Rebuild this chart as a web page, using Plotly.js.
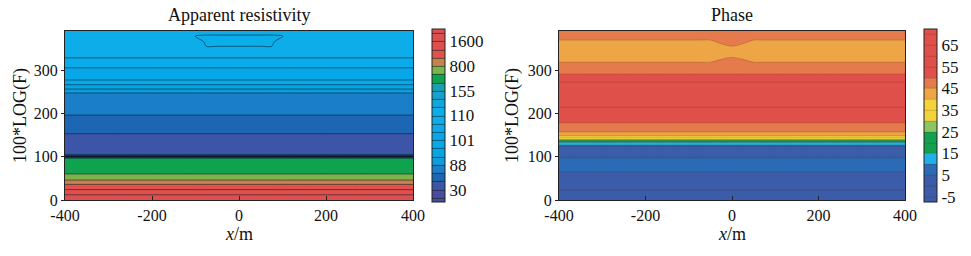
<!DOCTYPE html>
<html>
<head>
<meta charset="utf-8">
<script src="https://cdn.plot.ly/plotly-3.0.1.min.js"></script>
<style>html,body{margin:0;padding:0;background:#fff;}#chart{width:971px;height:256px;}</style>
</head>
<body>
<div id="chart"></div>
<script>
// ---------------- data ----------------
const xGrid = [-400,-300,-200,-150,-100,-75,-50,-25,0,25,50,75,100,150,200,300,400];
const xTickVals = [-400,-200,0,200,400];
const xTickText = ['-400','-200','0','200','400'];
const yTickVals = [0,100,200,300];

// apparent resistivity profile (100*LOG(F) vs ohm-m)
const rhoY   = [0,12,24,36,46,60,70,85,96,98,99.5,100.5,101.5,102.5,104,106,130,150,153,160,176,196,215,232,247,256,266,277,305,328,345,355,365,378,390];
const rhoVal = [1800,1600,1250,1000,800,300,260,235,205,180,140,100,75,60,52,48,42,48,50,56,62,70,76,83,88,93,97,101,104,107,108.3,108.8,109.1,109.4,109.5];
const rhoAnomY = [0,0,0,0,0,0,0,0,0,0,0,0,0,0,0,0,0,0,0,0,0,0,0,0,0,0,0,0,0,0,0.5,1,1,1,0];
const rhoAnomX = [0,0,0,0,0.5,1,1,1,1,1,1,1,0.5,0,0,0,0];
const rhoAnomAmp = 1.3;

// resistivity contour levels (colorbar boundaries)
const rhoLevels = [20,30,50,70,88,93,97,101,104,107,110,125,140,155,200,300,800,1000,1250,1600,1900];
const rhoBandColors = ['#4a4c9c','#3c55a6','#1d66b3','#1a7fc8','#0d9ddd','#06a6e6','#05aaea','#08a8e8','#0aabea','#0cade9',
                       '#0aaeeb','#0ea8e0','#14a2cf','#17a0b0','#0fa34f','#7db44a','#c7814c','#e0524b','#e04f4c','#e04f4f'];
const rhoTickVals = [30,88,101,110,155,800,1600];

// phase profile (degrees)
const phY   = [0,23,45,65,80,97,110,122,125,127,130,133,138,140,145,149,157,168,178,195,214,245,272,291,305,318,340,355,369,380,390];
const phVal = [-2,0,3,5,7,5,3,4,6,10,12.5,15,25,30,35,40,45,48,50,53,55,57.5,55,50,47.5,45,43,44,45,46,47];
const phAnomY = [0,0,0,0,0,0,0,0,0,0,0,0,0,0,0,0,0,0,0,0,0,0,0,0,0.3,1,1,1,1,0.6,0.3];
const phAnomX = [0,0,0,0,0,0,0,0.6,1,0.6,0,0,0,0,0,0,0];
const phAnomAmp = 1.0;

const phStart = -5, phEnd = 70, phStep = 5;
const phBandColors = ['#3b5ca8','#3b5ca8','#2b6bb5','#1fb0ea','#13a150','#13a150','#8cc661','#f3d33a','#f3d33a',
                      '#eea545','#e57a4d','#e0504a','#e0504a','#e0504a','#e0504a'];
const phTickVals = [-5,5,15,25,35,45,55,65];
const phTickText = ['-5','5','15','25','35','45','55','65'];

// ---------------- helpers ----------------
function toIndex(v, lev){
  if (v <= lev[0]) return 0;
  for (let k=0;k<lev.length-1;k++){
    if (v <= lev[k+1]) return k + (v-lev[k])/(lev[k+1]-lev[k]);
  }
  return lev.length-1;
}
function grid(prof, anomY, anomX, amp){
  return prof.map((p,i)=> xGrid.map((x,j)=> p + amp*anomY[i]*anomX[j]));
}
function fillScale(bands){
  const nb = bands.length, nc = nb+1;
  const cs = [[0,bands[0]]];
  for (let k=0;k<nb;k++) cs.push([(k+1)/nc, bands[k]]);
  cs.push([1,bands[nb-1]]);
  return cs;
}

const rhoZ = grid(rhoVal, rhoAnomY, rhoAnomX, rhoAnomAmp).map(r=>r.map(v=>toIndex(v, rhoLevels)));
const phZ  = grid(phVal, phAnomY, phAnomX, phAnomAmp);

const fam = '"Liberation Serif", "Times New Roman", serif';
const tickFont = {family:fam, size:16, color:'#111'};
const cbFont = {family:fam, size:17, color:'#111'};
const titleFont = {family:fam, size:18, color:'#111'};

const cbCommon = {
  thicknessmode:'pixels', thickness:13, lenmode:'pixels', len:173,
  y:(256-29)/256, yanchor:'top', xanchor:'left', xpad:0, ypad:0,
  outlinewidth:1, outlinecolor:'#222', ticks:'', tickfont:cbFont, ticklabelpad:3,
  tickmode:'array'
};

const traces = [
  {
    type:'contour', x:xGrid, y:rhoY, z:rhoZ, xaxis:'x', yaxis:'y',
    autocontour:false,
    contours:{start:0, end:rhoLevels.length-1, size:1, coloring:'fill'},
    colorscale: fillScale(rhoBandColors),
    line:{color:'rgba(15,25,40,0.7)', width:0.8, smoothing:1},
    colorbar:Object.assign({}, cbCommon, {
      x:432/971,
      tickvals: rhoTickVals.map(v=>toIndex(v, rhoLevels)),
      ticktext: rhoTickVals.map(String)
    }),
    hoverinfo:'skip'
  },
  {
    type:'contour', x:xGrid, y:phY, z:phZ, xaxis:'x2', yaxis:'y2',
    autocontour:false,
    contours:{start:phStart, end:phEnd, size:phStep, coloring:'fill'},
    colorscale: fillScale(phBandColors),
    line:{color:'rgba(90,30,20,0.45)', width:0.5, smoothing:1},
    colorbar:Object.assign({}, cbCommon, {
      x:924/971,
      tickvals: phTickVals,
      ticktext: phTickText
    }),
    hoverinfo:'skip'
  }
];

const xCommon = {
  range:[-400,400], tickmode:'array', tickvals:xTickVals, ticktext:xTickText, ticks:'inside', ticklen:4, tickcolor:'#222',
  showline:true, linecolor:'#222', linewidth:1, mirror:true, showgrid:false, zeroline:false,
  tickfont:tickFont, ticklabelstandoff:1
};
const yCommon = {
  range:[0,390], tickmode:'array', tickvals:yTickVals, ticks:'outside', ticklen:3, tickcolor:'#222',
  showline:true, linecolor:'#222', linewidth:1, mirror:true, showgrid:false, zeroline:false,
  tickfont:tickFont
};
const yDom = [56/256, 225/256];

const layout = {
  width:971, height:256, margin:{l:0,r:0,t:0,b:0},
  paper_bgcolor:'#fff', plot_bgcolor:'#fff', showlegend:false, font:tickFont,
  xaxis: Object.assign({}, xCommon, {domain:[65/971, 413/971], anchor:'y'}),
  yaxis: Object.assign({}, yCommon, {domain:yDom, anchor:'x'}),
  xaxis2: Object.assign({}, xCommon, {domain:[559/971, 905/971], anchor:'y2'}),
  yaxis2: Object.assign({}, yCommon, {domain:yDom, anchor:'x2'}),
  annotations:[
    {text:'Apparent resistivity', xref:'paper', yref:'paper', x:239/971, y:(256-15)/256, showarrow:false, font:titleFont, xanchor:'center', yanchor:'middle'},
    {text:'Phase', xref:'paper', yref:'paper', x:732/971, y:(256-15)/256, showarrow:false, font:titleFont, xanchor:'center', yanchor:'middle'},
    {text:'<i>x</i>/m', xref:'paper', yref:'paper', x:239/971, y:(256-234)/256, showarrow:false, font:titleFont, xanchor:'center', yanchor:'middle'},
    {text:'<i>x</i>/m', xref:'paper', yref:'paper', x:732/971, y:(256-234)/256, showarrow:false, font:titleFont, xanchor:'center', yanchor:'middle'},
    {text:'100*LOG(F)', xref:'paper', yref:'paper', x:20/971, y:(256-116)/256, showarrow:false, font:titleFont, textangle:-90, xanchor:'center', yanchor:'middle'},
    {text:'100*LOG(F)', xref:'paper', yref:'paper', x:512/971, y:(256-116)/256, showarrow:false, font:titleFont, textangle:-90, xanchor:'center', yanchor:'middle'}
  ]
};

Plotly.newPlot('chart', traces, layout, {displayModeBar:false, staticPlot:true});
</script>
</body>
</html>
